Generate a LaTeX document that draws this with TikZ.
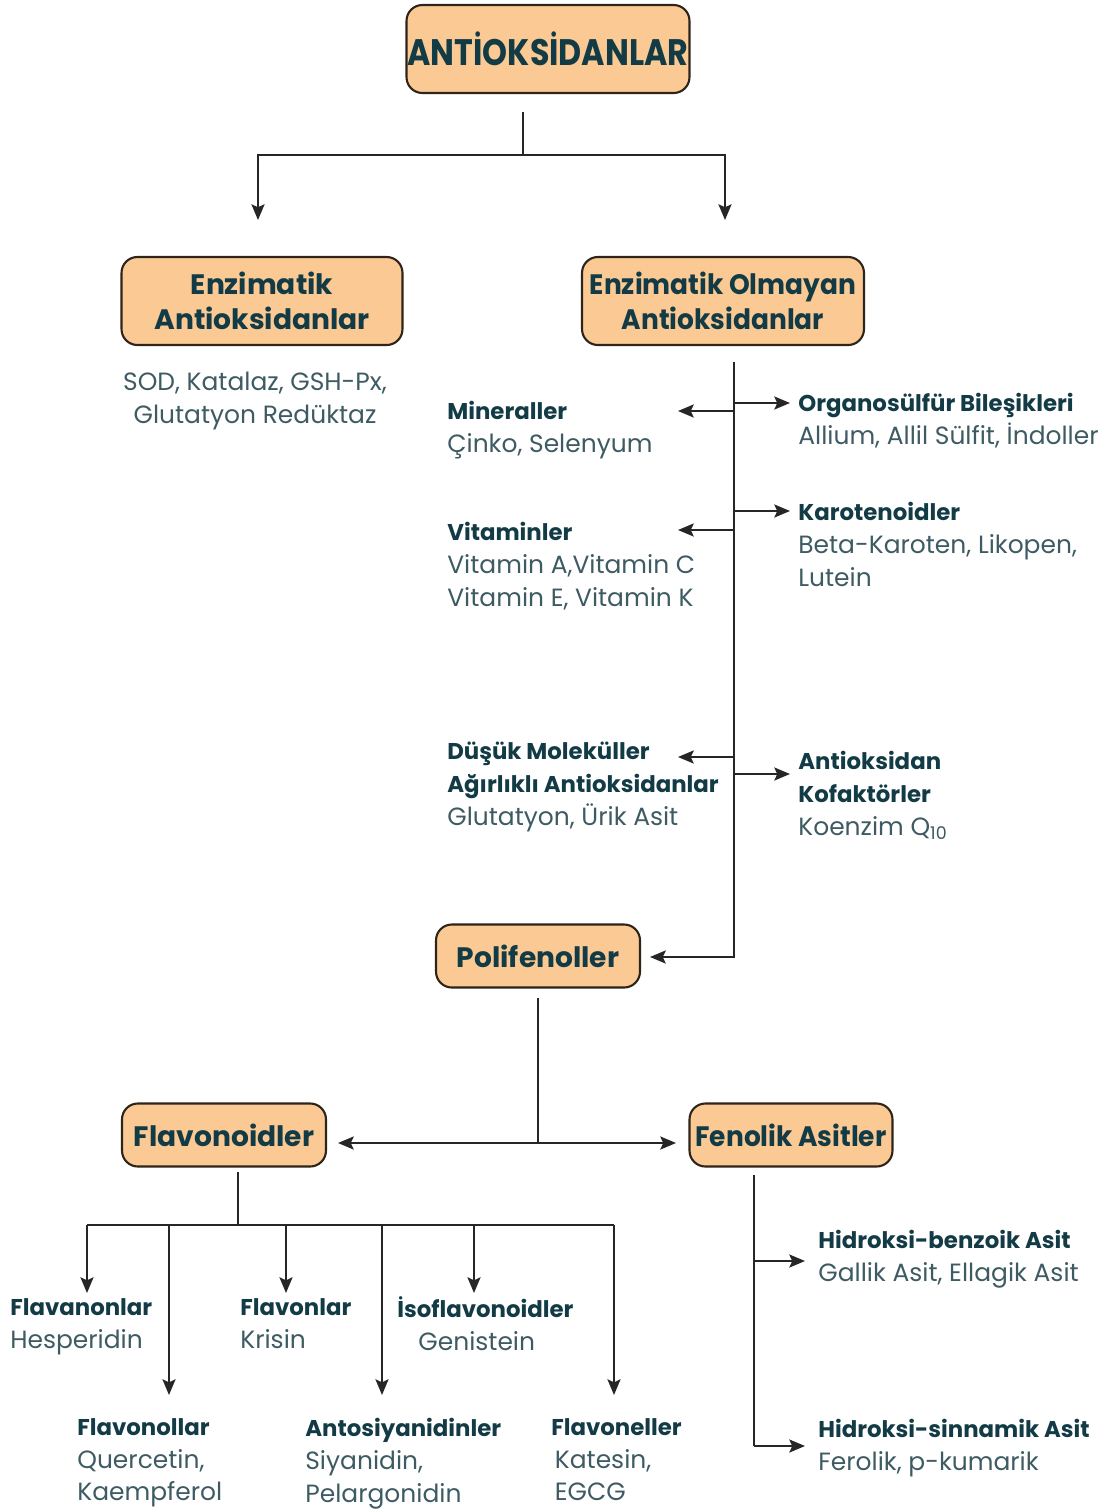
\documentclass[tikz,border=0pt]{standalone}
\usepackage{fontspec}
\setmainfont{Poppins}
\newfontfamily\narrowfont[FakeStretch=0.86]{Poppins}
\newfontfamily\tightfont[FakeStretch=0.94]{Poppins}
\usetikzlibrary{arrows.meta}
\definecolor{BoxFill}{HTML}{FBC993}
\definecolor{BoxLine}{HTML}{2E2419}
\definecolor{TitleInk}{HTML}{133B46}
\definecolor{TextInk}{HTML}{3E5B63}
\newcommand{\hd}[1]{{\fontsize{13}{18.7}\selectfont\bfseries\color{TitleInk}#1}}
\tikzset{
  catbox/.style={draw=BoxLine, line width=1.2pt, rounded corners=9pt, fill=BoxFill,
    align=center, text=TitleInk, inner sep=0pt,
    font=\fontsize{16}{19.8}\selectfont\bfseries},
  info/.style={anchor=north west, align=left, inner sep=0pt, text=TextInk,
    font=\fontsize{14.2}{18.7}\selectfont},
  link/.style={line width=1pt, draw=black!85},
  arr/.style={link, -{Stealth[length=9pt, width=7.5pt, inset=1.8pt]}},
  biarr/.style={link, {Stealth[length=9pt, width=7.5pt, inset=1.8pt]}-{Stealth[length=9pt, width=7.5pt, inset=1.8pt]}},
}

\begin{document}
\begin{tikzpicture}[x=0.02cm, y=-0.02cm]
  \useasboundingbox (0,0) rectangle (1109,1509);

  \node[catbox, minimum width=5.66cm, minimum height=1.76cm,
    font=\narrowfont\fontsize{21}{24}\selectfont\bfseries] (ant) at (548,49) {ANTİOKSİDANLAR};
  \node[catbox, minimum width=5.62cm, minimum height=1.76cm] (enz) at (262,301) {Enzimatik\\Antioksidanlar};
  \node[catbox, minimum width=5.64cm, minimum height=1.76cm,
    font=\tightfont\fontsize{16}{19.8}\selectfont\bfseries] (nenz) at (723,301) {Enzimatik Olmayan\\Antioksidanlar};
  \node[catbox, minimum width=4.08cm, minimum height=1.26cm] (poli) at (538,956) {Polifenoller};
  \node[catbox, minimum width=4.08cm, minimum height=1.26cm] (flav) at (224,1135) {Flavonoidler};
  \node[catbox, minimum width=4.06cm, minimum height=1.26cm,
    font=\tightfont\fontsize{16}{19.8}\selectfont\bfseries] (fen) at (791,1135) {Fenolik Asitler};

  \node[info, anchor=north, align=center] (sod) at (255,372) {SOD, Katalaz, GSH-Px,\\Glutatyon Redüktaz};
  \node[info] (min) at (447,401) {\hd{Mineraller}\\Çinko, Selenyum};
  \node[info] (org) at (798,393) {\hd{Organosülfür Bileşikleri}\\Allium, Allil Sülfit, İndoller};
  \node[info] (vit) at (447,522) {\hd{Vitaminler}\\Vitamin A,Vitamin C\\Vitamin E, Vitamin K};
  \node[info] (kar) at (798,502) {\hd{Karotenoidler}\\Beta-Karoten, Likopen,\\Lutein};
  \node[info] (dus) at (447,742) {\hd{Düşük Moleküller}\\\hd{Ağırlıklı Antioksidanlar}\\Glutatyon, Ürik Asit};
  \node[info] (kof) at (798,751) {\hd{Antioksidan}\\\hd{Kofaktörler}\\Koenzim Q\textsubscript{10}};

  \node[info] (fnon) at (10,1298) {\hd{Flavanonlar}\\Hesperidin};
  \node[info] (fvon) at (240,1298) {\hd{Flavonlar}\\Krisin};
  \node[info] (iso) at (397,1296) {\hd{İsoflavonoidler}\\\hspace{12pt}Genistein};
  \node[info] (fnol) at (77,1418) {\hd{Flavonollar}\\Quercetin,\\Kaempferol};
  \node[info] (anto) at (305,1418) {\hd{Antosiyanidinler}\\Siyanidin,\\Pelargonidin};
  \node[info] (fnel) at (551,1418) {\hd{Flavoneller}\\\hspace{2pt}Katesin,\\\hspace{2pt}EGCG};
  \node[info] (hben) at (818,1230) {\hd{Hidroksi-benzoik Asit}\\Gallik Asit, Ellagik Asit};
  \node[info] (hsin) at (818,1419) {\hd{Hidroksi-sinnamik Asit}\\Ferolik, p-kumarik};

  \coordinate (a0) at (523,112);
  \coordinate (a1) at (523,155);
  \coordinate (e0) at (258,220);
  \coordinate (n0) at (725,220);
  \draw[link] (a0) -- (a1);
  \draw[arr] (a1) -| (e0);
  \draw[arr] (a1) -| (n0);

  \coordinate (t0) at (734,362);
  \coordinate (t1) at (734,957);
  \coordinate (p0) at (650,957);
  \draw[arr] (t0) -- (t1) -- (p0);
  \foreach \n/\y in {1/411, 2/530, 3/757}{
    \coordinate (tl\n) at (734,\y);
    \coordinate (ll\n) at (678,\y);
    \draw[arr] (tl\n) -- (ll\n);
  }
  \foreach \n/\y in {1/403, 2/511, 3/774}{
    \coordinate (tr\n) at (734,\y);
    \coordinate (rr\n) at (790,\y);
    \draw[arr] (tr\n) -- (rr\n);
  }

  \coordinate (q0) at (538,998);
  \coordinate (q1) at (538,1143);
  \coordinate (fl0) at (338,1143);
  \coordinate (fe0) at (676,1143);
  \draw[link] (q0) -- (q1);
  \draw[biarr] (fl0) -- (fe0);

  \coordinate (v0) at (238,1172);
  \coordinate (v1) at (238,1225);
  \coordinate (h0) at (87,1225);
  \coordinate (h1) at (614,1225);
  \draw[link] (v0) -- (v1);
  \draw[link] (h0) -- (h1);
  \foreach \x/\y in {87/1293, 169/1395, 286/1293, 382/1395, 474/1293, 614/1395}{
    \draw[arr] (\x,1225) -- (\x,\y);
  }

  \coordinate (w0) at (754,1175);
  \coordinate (w1) at (754,1446);
  \coordinate (b0) at (805,1261);
  \coordinate (b1) at (805,1446);
  \draw[link] (w0) -- (w1);
  \draw[arr] (w0 |- b0) -- (b0);
  \draw[arr] (w1) -- (b1);
\end{tikzpicture}
\end{document}
